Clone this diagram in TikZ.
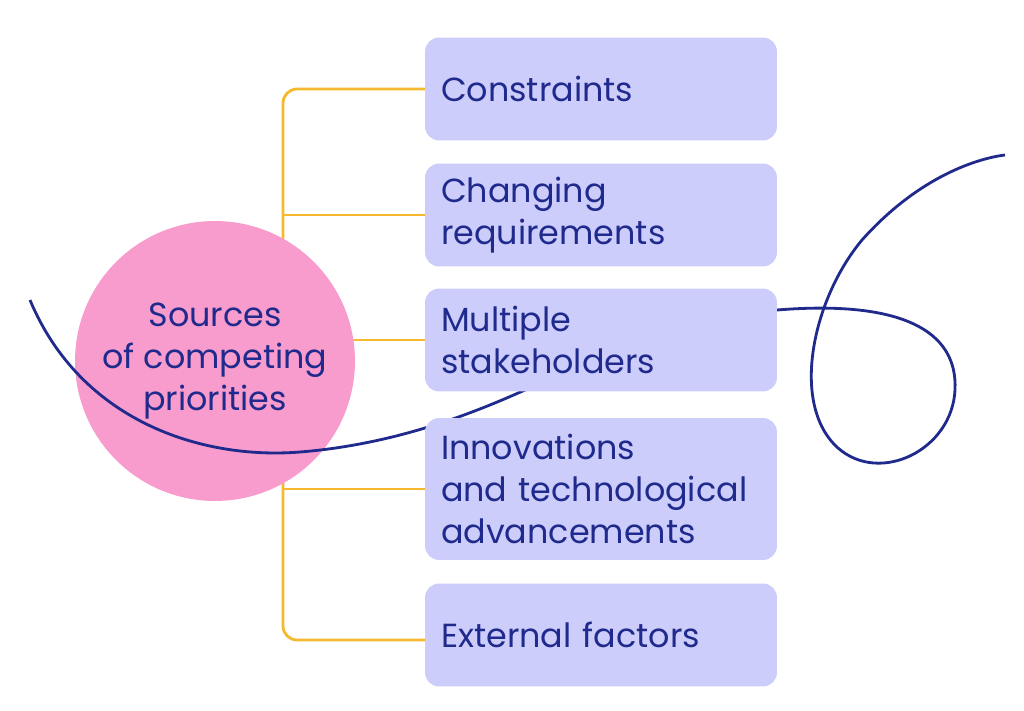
\documentclass[tikz,border=0pt]{standalone}
\usepackage{fontspec}
\setmainfont{Poppins}
\usepackage{xcolor}
\usetikzlibrary{positioning}
\definecolor{inkblue}{HTML}{1F2A8C}
\definecolor{boxfill}{HTML}{CCCDFA}
\definecolor{pinkfill}{HTML}{F79CCC}
\definecolor{branch}{HTML}{F5B82E}

\begin{document}
\begin{tikzpicture}[x=0.02cm, y=-0.02cm,
    source/.style={rectangle, rounded corners=8pt, fill=boxfill, minimum width=7.04cm, minimum height=2.06cm, text width=6.4cm, align=left, inner sep=0pt, font=\fontsize{19}{24}\selectfont, text=inkblue},
    hub/.style={circle, fill=pinkfill, minimum size=5.6cm, align=center, font=\fontsize{19}{24}\selectfont, text=inkblue},
    link/.style={branch, line width=1.6pt, rounded corners=8pt},
    swirl/.style={inkblue, line width=1.6pt}
]
    \useasboundingbox (0,0) rectangle (1024,710);

    % Boxes (placed first for the links, drawn again on top)
    \path (601,89) coordinate (c1) (601,215) coordinate (c2) (601,340) coordinate (c3)
          (601,489) coordinate (c4) (601,635) coordinate (c5);

    % Links
    \draw[link] (425,89) -| (283,640) -- (425,640);
    \foreach \y in {215,340,489} \draw[link] (283,\y) -- (425,\y);

    % Hub
    \node[hub] (hub) at (215,361) {Sources\\of competing\\priorities};

    % Swirl
    \draw[swirl] (30,300) .. controls (80,420) and (200,460) .. (300,452)
        .. controls (400,444) and (480,410) .. (525,390)
        -- (777,310) .. controls (900,300) and (958,330) .. (955,390)
        .. controls (952,450) and (880,485) .. (838,448)
        .. controls (790,405) and (812,300) .. (862,240)
        .. controls (920,175) and (980,158) .. (1005,155);

    % Sources
    \node[source, minimum height=2.06cm] (constraints) at (c1) {Constraints};
    \node[source] (changing) at (c2) {Changing\\requirements};
    \node[source] (stakeholders) at (c3) {Multiple\\stakeholders};
    \node[source, minimum height=2.84cm] (innovations) at (c4) {Innovations\\and technological\\advancements};
    \node[source] (external) at (c5) {External factors};
\end{tikzpicture}
\end{document}
